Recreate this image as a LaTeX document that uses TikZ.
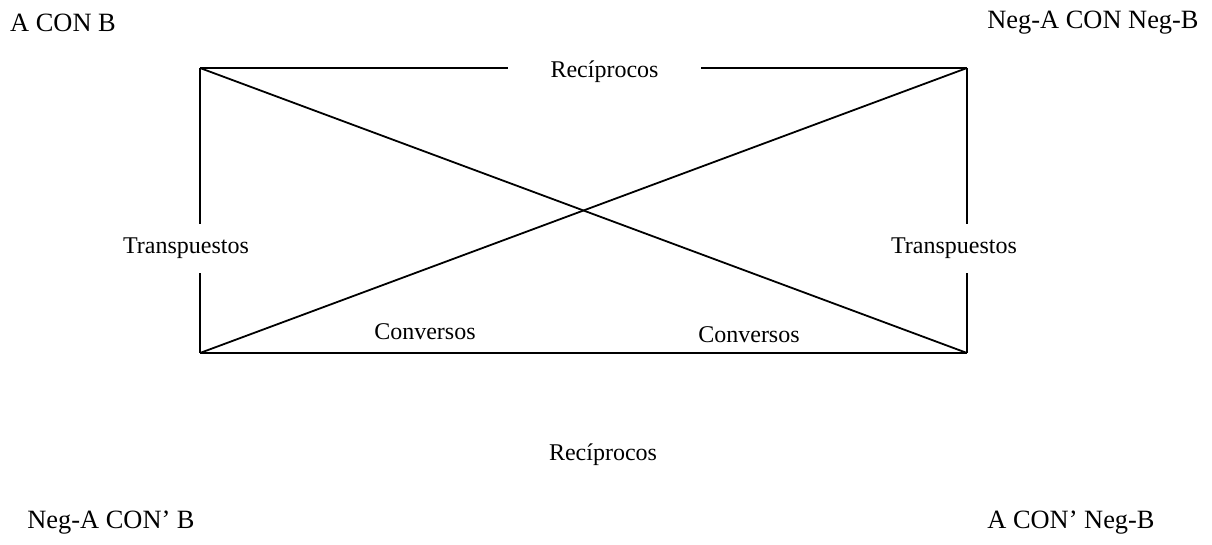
\documentclass[tikz,border=0pt]{standalone}
\usepackage{fontspec}
\setmainfont{Liberation Serif}
\usetikzlibrary{positioning}

\begin{document}
\begin{tikzpicture}[
  x=0.5pt, y=-0.5pt,
  lbl/.style={inner sep=0pt, font=\fontsize{12}{14}\selectfont},
  corner/.style={inner sep=0pt, font=\fontsize{13.2}{15}\selectfont},
  gap/.style={lbl, minimum height=24.5pt},
  edge/.style={line width=0.9pt}]
\useasboundingbox (0,0) rectangle (1212,545);
% corners of the square
\coordinate (tl) at (200,68);
\coordinate (tr) at (967,68);
\coordinate (bl) at (200,353);
\coordinate (br) at (967,353);
% corner statements
\node[corner] (ab)   at (63,23)    {A CON B};
\node[corner] (nanb) at (1093,23)  {Neg-A CON Neg-B};
\node[corner] (nab)  at (111,523)  {Neg-A CON' B};
\node[corner] (anb)  at (1071,523) {A CON' Neg-B};
% relation labels
\node[lbl, minimum width=96.5pt] (rtop) at (604.5,72) {Recíprocos};
\node[lbl] (rbot) at (603,455) {Recíprocos};
\node[gap] (tleft)  at (186,248.5) {Transpuestos};
\node[gap] (tright) at (954,248.5) {Transpuestos};
\node[lbl] (cleft)  at (425,332) {Conversos};
\node[lbl] (cright) at (749,335) {Conversos};
% sides
\draw[edge] (tl) -- (rtop.west |- tl);
\draw[edge] (rtop.east |- tr) -- (tr);
\draw[edge] (tl) -- (tl |- tleft.north);
\draw[edge] (bl |- tleft.south) -- (bl);
\draw[edge] (tr) -- (tr |- tright.north);
\draw[edge] (br |- tright.south) -- (br);
\draw[edge] (bl) -- (br);
% diagonals
\draw[edge] (tl) -- (br);
\draw[edge] (bl) -- (tr);
\end{tikzpicture}
\end{document}
